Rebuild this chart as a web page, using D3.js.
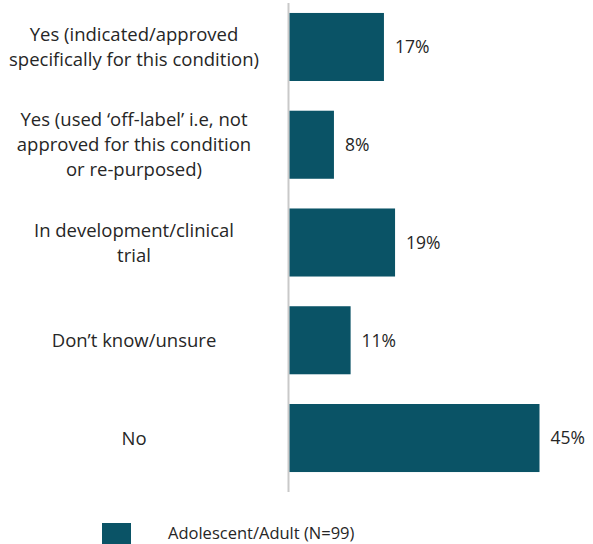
<!DOCTYPE html>
<html>
<head>
<meta charset="utf-8">
<script src="https://cdn.jsdelivr.net/npm/d3@7"></script>
<style>
  html, body { margin: 0; padding: 0; background: #ffffff; }
  svg { display: block; font-family: "Open Sans", "Noto Sans", sans-serif; }
</style>
</head>
<body>
<svg id="chart" width="593" height="544"></svg>
<script>
// Responses: is there a treatment for this condition?
const categories = [
  ["Yes (indicated/approved", "specifically for this condition)"],
  ["Yes (used \u2018off-label\u2019 i.e, not", "approved for this condition", "or re-purposed)"],
  ["In development/clinical", "trial"],
  ["Don\u2019t know/unsure"],
  ["No"]
];
const values = [17, 8, 19, 11, 45];
const seriesName = "Adolescent/Adult (N=99)";

const barColor = "#0a5366";
const textColor = "#262626";

const svg = d3.select("#chart");
const keys = categories.map((c, i) => i);

const plotLeft = 289.5;
const x = d3.scaleLinear().domain([0, 45]).range([plotLeft, plotLeft + 250]);

const y = d3.scaleBand()
  .domain(keys)
  .range([-1.9, 486.9])
  .paddingInner(0.304)
  .paddingOuter(0.152);

// vertical baseline axis
const axisTop = 3, axisBottom = 492;
svg.append("line")
  .attr("x1", plotLeft - 1).attr("x2", plotLeft - 1)
  .attr("y1", axisTop).attr("y2", axisBottom)
  .attr("stroke", "#c9c9c9").attr("stroke-width", 2);

// bars
svg.append("g").selectAll("rect")
  .data(values)
  .join("rect")
  .attr("x", x(0))
  .attr("y", (d, i) => y(i))
  .attr("width", d => x(d) - x(0))
  .attr("height", y.bandwidth())
  .attr("fill", barColor);

// value labels
svg.append("g").selectAll("text")
  .data(values)
  .join("text")
  .attr("x", d => x(d) + 11)
  .attr("y", (d, i) => y(i) + y.bandwidth() / 2)
  .attr("dy", "0.36em")
  .attr("font-size", 17.5)
  .attr("fill", textColor)
  .text(d => d + "%");

// category labels, wrapped over several lines and centred on each bar
const lineH = 25;
const catG = svg.append("g");
categories.forEach((lines, i) => {
  const cy = y(i) + y.bandwidth() / 2;
  const t = catG.append("text")
    .attr("text-anchor", "middle")
    .attr("font-size", 18.5)
    .attr("fill", textColor);
  lines.forEach((ln, j) => {
    t.append("tspan")
      .attr("x", 134)
      .attr("y", cy + (j - (lines.length - 1) / 2) * lineH)
      .attr("dy", "0.36em")
      .text(ln);
  });
});

// legend
const lg = svg.append("g");
lg.append("rect")
  .attr("x", 102).attr("y", 523)
  .attr("width", 29).attr("height", 29)
  .attr("fill", barColor);
lg.append("text")
  .attr("x", 168).attr("y", 539)
  .attr("font-size", 16.5)
  .attr("fill", textColor)
  .text(seriesName);
</script>
</body>
</html>
